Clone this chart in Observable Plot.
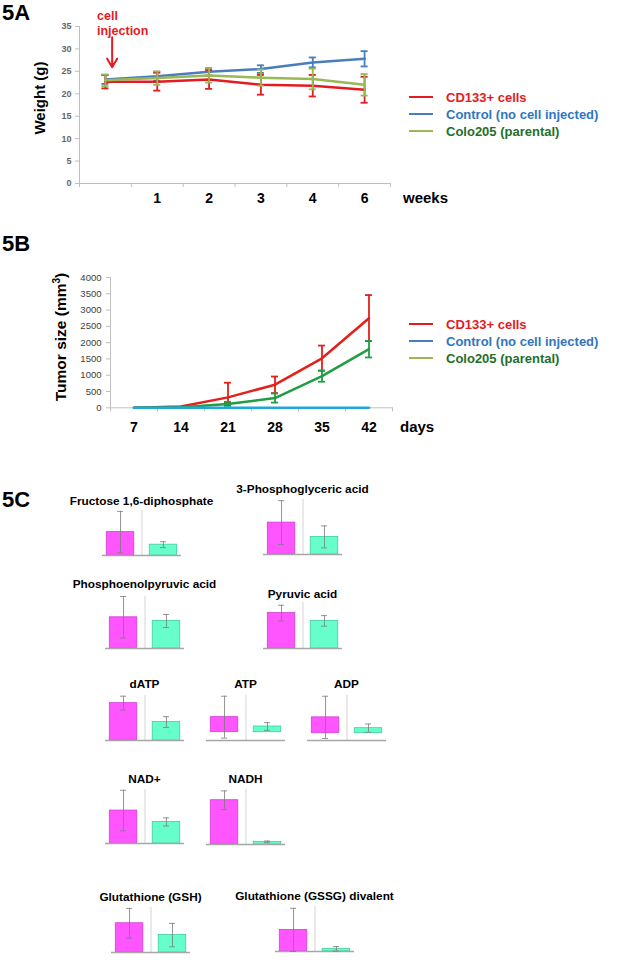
<!DOCTYPE html>
<html>
<head>
<meta charset="utf-8">
<script src="https://cdn.jsdelivr.net/npm/d3@7"></script>
<script src="https://cdn.jsdelivr.net/npm/@observablehq/plot@0.6"></script>
<style>
  body { margin: 0; background: #fff; }
  #page { position: relative; width: 620px; height: 960px; overflow: hidden; background: #fff;
          font-family: "Liberation Sans", Arial, sans-serif; }
  .abs { position: absolute; white-space: nowrap; line-height: 1; }
  .panel { font-weight: bold; font-size: 22px; color: #000; }
  .ylab { font-weight: bold; color: #000; transform: translate(-50%, -50%) rotate(-90deg); }
  .unit { font-weight: bold; font-size: 15px; color: #000; }
  .mtitle { font-weight: bold; font-size: 11.8px; color: #000; transform: translateX(-50%); }
  .leg { font-weight: bold; font-size: 13px; }
  .legline { position: absolute; height: 2px; width: 24px; }
  .plotbox { position: absolute; }
  .plotbox svg { overflow: visible; }
</style>
</head>
<body>
<div id="page"></div>
<script>
// ---------------- 5A: body weight ----------------
const weeks = ["", "1", "2", "3", "4", "6"];
const weightTicks = [0, 5, 10, 15, 20, 25, 30, 35];
const weightCD133 = [22.7, 22.7, 23.2, 22.0, 21.8, 20.9];
const weightCD133Err = [1.5, 2.0, 2.1, 2.2, 2.4, 2.9];
const weightControl = [23.2, 23.9, 24.9, 25.5, 27.0, 27.8];
const weightControlErr = [1.0, 1.0, 0.8, 0.85, 1.1, 1.7];
const weightColo = [23.0, 23.5, 24.1, 23.6, 23.3, 22.0];
const weightColoErr = [1.3, 1.5, 1.6, 1.8, 2.3, 2.4];
const injectionArrow = {week: 0.63, from: 32.6, to: 25.9};

// ---------------- 5B: tumor size ----------------
const days = ["7", "14", "21", "28", "35", "42"];
const tumorTicks = [0, 500, 1000, 1500, 2000, 2500, 3000, 3500, 4000];
const tumorCD133 = [0, 40, 320, 710, 1520, 2750];
const tumorCD133ErrHi = [0, 10, 450, 250, 390, 710];
const tumorCD133ErrLo = [0, 10, 150, 260, 380, 700];
const tumorControl = [0, 0, 0, 0, 0, 0];
const tumorColo = [0, 20, 120, 300, 970, 1800];
const tumorColoErr = [0, 10, 60, 140, 170, 255];

// ---------------- 5C: metabolites (relative level, % of panel axis) ----------------
const metabolites = ["Fructose 1,6-diphosphate", "3-Phosphoglyceric acid", "Phosphoenolpyruvic acid",
  "Pyruvic acid", "dATP", "ATP", "ADP", "NAD+", "NADH", "Glutathione (GSH)", "Glutathione (GSSG) divalent"];
const cd133Level    = [52, 58, 60, 77, 83, 41, 42, 61, 80.5, 65, 48];
const cd133LevelErr = [46, 40, 40, 17, 15.5, 57, 56, 37.5, 17, 33, 48];
const coloLevel     = [24, 32, 53, 60, 41, 15.5, 13.3, 40, 4.8, 38.7, 6];
const coloLevelErr  = [6.5, 20, 12.5, 11.5, 12, 10.5, 11, 7.5, 1.5, 26, 5];
const levelAxisMin  = [0, 0, 0, 0, 0, -22.6, -19.4, 0, 0, 0, 0];
const levelAxisMax  = 100;

// ---------------- styles / layout ----------------
const C = {
  red: "#e31b23", blue: "#4a7ebb", lightGreen: "#98b954",
  red5B: "#e3201b", green5B: "#1f9e44", cyan5B: "#20a8dc",
  redText: "#e31b23", blueText: "#3176bd", greenText: "#1f6f2a",
  axis: "#bfbfbf", tickText: "#666666",
  magenta: "#ff55ff", magentaStroke: "#d63ed6", aqua: "#66ffcc", aquaStroke: "#3fcf9f"
};
const miniLayout = [
  {left: 102, bottom: 555, h: 45, ty: 502},
  {left: 263, bottom: 554, h: 55, ty: 490},
  {left: 105, bottom: 648, h: 52, ty: 585},
  {left: 263, bottom: 648, h: 46, ty: 595},
  {left: 105, bottom: 740, h: 45, ty: 685},
  {left: 206, bottom: 740, h: 45, ty: 685},
  {left: 307, bottom: 740, h: 45, ty: 685},
  {left: 105, bottom: 843, h: 54, ty: 780},
  {left: 206, bottom: 844, h: 55, ty: 780},
  {left: 111, bottom: 952, h: 45, ty: 898},
  {left: 275, bottom: 951, h: 45, ty: 897}
];

const page = document.getElementById("page");
function addDiv(cls, html, style) {
  const d = document.createElement("div");
  d.className = "abs " + cls;
  d.innerHTML = html;
  Object.assign(d.style, style);
  page.appendChild(d);
  return d;
}
function addPlot(svg, left, top) {
  const box = document.createElement("div");
  box.className = "plotbox";
  box.style.left = left + "px";
  box.style.top = top + "px";
  box.appendChild(svg);
  page.appendChild(box);
}
const rowsOf = (vals, lo, hi) => vals.map((v, i) => ({x: i + 0.5, v, lo: v - lo[i], hi: v + hi[i]}));
function errorMarks(rows, color, cap, width) {
  return [
    Plot.ruleX(rows, {x: "x", y1: "lo", y2: "hi", stroke: color, strokeWidth: width}),
    Plot.ruleY(rows, {y: "hi", x1: d => d.x - cap, x2: d => d.x + cap, stroke: color, strokeWidth: width}),
    Plot.ruleY(rows, {y: "lo", x1: d => d.x - cap, x2: d => d.x + cap, stroke: color, strokeWidth: width})
  ];
}
const baseStyle = {fontFamily: "Liberation Sans, Arial, sans-serif", background: "transparent", overflow: "visible"};

// ================= 5A =================
addDiv("panel", "5A", {left: "2px", top: "2px"});
{
  const red = rowsOf(weightCD133, weightCD133Err, weightCD133Err);
  const blue = rowsOf(weightControl, weightControlErr, weightControlErr);
  const green = rowsOf(weightColo, weightColoErr, weightColoErr);
  const centers = weeks.map((_, i) => i + 0.5);
  const svg = Plot.plot({
    width: 400, height: 215,
    marginLeft: 79, marginRight: 10, marginTop: 26, marginBottom: 32,
    style: baseStyle,
    x: {domain: [0, weeks.length], axis: null},
    y: {domain: [0, 35], axis: null},
    marks: [
      Plot.ruleY([0], {stroke: C.axis}),
      Plot.ruleX([0], {stroke: C.axis}),
      Plot.axisY({ticks: weightTicks, tickSize: 4, tickPadding: 4, tickFormat: d => String(d), color: C.tickText, stroke: C.axis, fontSize: 9, fontWeight: "bold", label: null}),
      Plot.axisX({ticks: d3.range(weeks.length + 1), tickSize: 4, tickFormat: () => "", stroke: C.axis, label: null}),
      Plot.axisX({ticks: centers, tickSize: 0, tickPadding: 10, tickFormat: d => weeks[Math.floor(d)],
                  color: "#000", fontSize: 14, fontWeight: "bold", label: null}),
      Plot.line(blue, {x: "x", y: "v", stroke: C.blue, strokeWidth: 2.5}),
      ...errorMarks(blue, C.blue, 0.068, 1.8),
      Plot.line(red, {x: "x", y: "v", stroke: C.red, strokeWidth: 2.5}),
      ...errorMarks(red, C.red, 0.068, 1.8),
      Plot.line(green, {x: "x", y: "v", stroke: C.lightGreen, strokeWidth: 2.5}),
      ...errorMarks(green, C.lightGreen, 0.068, 1.8),
      Plot.arrow([injectionArrow], {x1: "week", x2: "week", y1: "from", y2: "to", stroke: C.red,
                  strokeWidth: 2, headLength: 9, bend: 0})
    ]
  });
  addPlot(svg, 0, 0);
}
addDiv("", "cell<br>injection", {left: "97px", top: "9px", color: C.red, fontWeight: "bold", fontSize: "12.5px", lineHeight: "14.5px"});
addDiv("ylab", "Weight (g)", {left: "39px", top: "98px", fontSize: "15px"});
addDiv("unit", "weeks", {left: "403px", top: "190px"});

function legend(top0) {
  const items = [
    {label: "CD133+ cells", line: C.red, text: C.redText},
    {label: "Control (no cell injected)", line: C.blue, text: C.blueText},
    {label: "Colo205 (parental)", line: C.lightGreen, text: C.greenText}
  ];
  items.forEach((it, i) => {
    const y = top0 + i * 17;
    const l = document.createElement("div");
    l.className = "legline";
    Object.assign(l.style, {left: "409px", top: (y - 1) + "px", background: it.line});
    page.appendChild(l);
    addDiv("leg", it.label, {left: "446px", top: (y - 6.5) + "px", color: it.text});
  });
}
legend(97);

// ================= 5B =================
addDiv("panel", "5B", {left: "2px", top: "233px"});
{
  const red = rowsOf(tumorCD133, tumorCD133ErrLo, tumorCD133ErrHi);
  const green = rowsOf(tumorColo, tumorColoErr, tumorColoErr);
  const cyan = rowsOf(tumorControl, tumorControl, tumorControl);
  const centers = days.map((_, i) => i + 0.5);
  const svg = Plot.plot({
    width: 400, height: 185,
    marginLeft: 110, marginRight: 8, marginTop: 17, marginBottom: 37.7,
    style: baseStyle,
    x: {domain: [0, days.length], axis: null},
    y: {domain: [0, 4000], axis: null},
    marks: [
      Plot.ruleY([0], {stroke: C.axis}),
      Plot.ruleX([0], {stroke: C.axis}),
      Plot.axisY({ticks: tumorTicks, tickSize: 4, tickPadding: 5, tickFormat: d => String(d), color: "#404040", stroke: C.axis, fontSize: 9.5, label: null}),
      Plot.axisX({ticks: d3.range(days.length + 1), tickSize: 4, tickFormat: () => "", stroke: C.axis, label: null}),
      Plot.axisX({ticks: centers, tickSize: 0, tickPadding: 14.7, tickFormat: d => days[Math.floor(d)],
                  color: "#000", fontSize: 14, fontWeight: "bold", label: null}),
      Plot.line(red, {x: "x", y: "v", stroke: C.red5B, strokeWidth: 2.5}),
      ...errorMarks(red.slice(2), C.red5B, 0.074, 1.8),
      Plot.line(green, {x: "x", y: "v", stroke: C.green5B, strokeWidth: 2.5}),
      ...errorMarks(green.slice(2), C.green5B, 0.074, 1.8),
      Plot.line(cyan, {x: "x", y: "v", stroke: C.cyan5B, strokeWidth: 2.5})
    ]
  });
  addPlot(svg, 0, 260);
}
addDiv("ylab", "Tumor size (mm<sup style='font-size:10px'>3</sup>)", {left: "60px", top: "337px", fontSize: "15.5px"});
addDiv("unit", "days", {left: "400px", top: "419px"});
legend(324);

// ================= 5C =================
addDiv("panel", "5C", {left: "2px", top: "489px"});
metabolites.forEach((name, i) => {
  const L = miniLayout[i];
  const mag = [{x: 0.5, v: cd133Level[i], lo: cd133Level[i] - cd133LevelErr[i], hi: cd133Level[i] + cd133LevelErr[i]}];
  const aq = [{x: 1.5, v: coloLevel[i], lo: coloLevel[i] - coloLevelErr[i], hi: coloLevel[i] + coloLevelErr[i]}];
  const half = 0.32;
  const m = 5;
  const svg = Plot.plot({
    width: 79 + 2 * m, height: L.h + 2 * m,
    marginLeft: m, marginRight: m, marginTop: m, marginBottom: m,
    style: baseStyle,
    x: {domain: [0.08, 1.92], axis: null},
    y: {domain: [levelAxisMin[i], levelAxisMax], axis: null},
    marks: [
      Plot.ruleX([1], {stroke: "#d4d4d4", strokeWidth: 1}),
      Plot.rect(mag, {x1: d => d.x - half, x2: d => d.x + half, y1: 0, y2: "v", fill: C.magenta, stroke: C.magentaStroke, strokeWidth: 0.8}),
      Plot.rect(aq, {x1: d => d.x - half, x2: d => d.x + half, y1: 0, y2: "v", fill: C.aqua, stroke: C.aquaStroke, strokeWidth: 0.8}),
      Plot.ruleY([levelAxisMin[i]], {stroke: "#a6a6a6", strokeWidth: 1.5}),
      ...errorMarks(mag, "#7a7a7a", 0.07, 0.8),
      ...errorMarks(aq, "#7a7a7a", 0.07, 0.8)
    ]
  });
  addPlot(svg, L.left - m, L.bottom - L.h - m);
  addDiv("mtitle", name, {left: (L.left + 39.5) + "px", top: (L.ty - 6) + "px"});
});
</script>
</body>
</html>
